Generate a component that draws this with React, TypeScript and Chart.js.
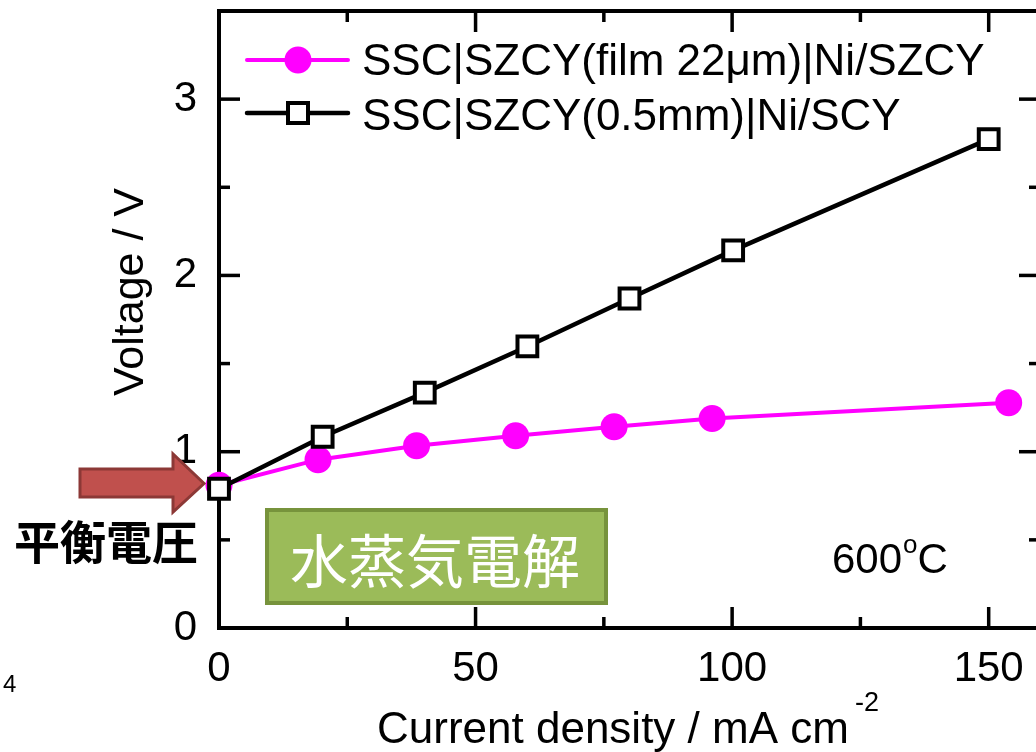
import { useEffect, useRef } from 'react';
import { Chart, registerables } from 'chart.js';

Chart.register(...registerables);

// ---- data ----
const filmCurrent = [0, 19.3, 38.5, 57.8, 77.0, 96.1, 153.9];
const filmVoltage = [0.81, 0.955, 1.034, 1.091, 1.142, 1.188, 1.278];
const bulkCurrent = [0, 20.2, 40.1, 60.1, 80.0, 100.2, 150.0];
const bulkVoltage = [0.79, 1.085, 1.335, 1.597, 1.869, 2.142, 2.773];
const seriesLabels = ['SSC|SZCY(film 22\u03bcm)|Ni/SZCY', 'SSC|SZCY(0.5mm)|Ni/SCY'];
const xMajorTicks = [0, 50, 100, 150];
const xMinorTicks = [25, 75, 125];
const yMajorTicks = [0, 1, 2, 3];
const yMinorTicks = [0.5, 1.5, 2.5];
const xRange = [0, 160];
const yRange = [0, 3.5];
const xTitle = 'Current density / mA cm';
const xTitleSup = '-2';
const yTitle = 'Voltage / V';
const tempLabel = '600';
const equilibriumLabel = '平衡電圧';
const processLabel = '水蒸気電解';
const pageLabel = '4';

const FONT = '"Liberation Sans", Arial, Helvetica, sans-serif';
const CJK = '"Noto Sans CJK JP", "Noto Sans CJK SC", sans-serif';
const MAGENTA = '#FF00FF';

const framePlugin = {
  id: 'frameTicks',
  beforeDatasetsDraw(chart: any) {
    const { ctx, chartArea: a, scales } = chart;
    const xs = scales.x;
    const ys = scales.y;
    ctx.save();
    ctx.strokeStyle = '#000';
    ctx.lineWidth = 4;
    ctx.strokeRect(a.left, a.top, a.right - a.left, a.bottom - a.top);
    ctx.lineWidth = 3.5;
    const seg = (x1: number, y1: number, x2: number, y2: number) => {
      ctx.beginPath();
      ctx.moveTo(x1, y1);
      ctx.lineTo(x2, y2);
      ctx.stroke();
    };
    const major = 21;
    const minor = 11;
    xMajorTicks.forEach((v) => {
      const p = xs.getPixelForValue(v);
      seg(p, a.bottom, p, a.bottom - major);
      seg(p, a.top, p, a.top + major);
    });
    xMinorTicks.forEach((v) => {
      const p = xs.getPixelForValue(v);
      seg(p, a.bottom, p, a.bottom - minor);
      seg(p, a.top, p, a.top + minor);
    });
    yMajorTicks.forEach((v) => {
      const p = ys.getPixelForValue(v);
      seg(a.left, p, a.left + major, p);
      seg(a.right, p, a.right - major, p);
    });
    yMinorTicks.forEach((v) => {
      const p = ys.getPixelForValue(v);
      seg(a.left, p, a.left + minor, p);
      seg(a.right, p, a.right - minor, p);
    });
    ctx.restore();
  },
  afterDraw(chart: any) {
    const { ctx } = chart;
    ctx.save();

    // ---- legend ----
    const lx1 = 247, lx2 = 348, mx = 298;
    ctx.lineCap = 'round';
    ctx.strokeStyle = MAGENTA;
    ctx.lineWidth = 4;
    ctx.beginPath(); ctx.moveTo(lx1, 60); ctx.lineTo(lx2, 60); ctx.stroke();
    ctx.fillStyle = MAGENTA;
    ctx.beginPath(); ctx.arc(mx, 60, 13.5, 0, Math.PI * 2); ctx.fill();
    ctx.strokeStyle = '#000';
    ctx.lineWidth = 4.5;
    ctx.beginPath(); ctx.moveTo(lx1, 113); ctx.lineTo(lx2, 113); ctx.stroke();
    ctx.lineCap = 'butt';
    ctx.fillStyle = '#fff';
    ctx.fillRect(mx - 10, 103, 20, 20);
    ctx.lineWidth = 4;
    ctx.strokeRect(mx - 10, 103, 20, 20);
    ctx.fillStyle = '#000';
    ctx.font = `44px ${FONT}`;
    ctx.textAlign = 'left';
    ctx.textBaseline = 'alphabetic';
    ctx.fillText(seriesLabels[0], 362, 75);
    ctx.fillText(seriesLabels[1], 362, 130);

    // ---- axis titles ----
    ctx.font = `44px ${FONT}`;
    ctx.fillText(xTitle, 377, 743);
    const w = ctx.measureText(xTitle).width;
    ctx.font = `27px ${FONT}`;
    ctx.fillText(xTitleSup, 377 + w + 6, 711);

    ctx.save();
    ctx.translate(143, 292);
    ctx.rotate(-Math.PI / 2);
    ctx.font = `43px ${FONT}`;
    ctx.textAlign = 'center';
    ctx.fillText(yTitle, 0, 0);
    ctx.restore();

    // ---- temperature ----
    ctx.textAlign = 'left';
    ctx.font = `42px ${FONT}`;
    ctx.fillText(tempLabel, 832, 573);
    const tw = ctx.measureText(tempLabel).width;
    ctx.font = `26px ${FONT}`;
    ctx.fillText('o', 832 + tw + 1, 553);
    const ow = ctx.measureText('o').width;
    ctx.font = `42px ${FONT}`;
    ctx.fillText('C', 832 + tw + ow + 1, 573);

    // ---- page fragment ----
    ctx.font = `24px ${FONT}`;
    ctx.fillText(pageLabel, 3, 692);

    // ---- arrow ----
    ctx.beginPath();
    ctx.moveTo(80, 469);
    ctx.lineTo(173, 469);
    ctx.lineTo(173, 454);
    ctx.lineTo(204, 483.5);
    ctx.lineTo(173, 512);
    ctx.lineTo(173, 497);
    ctx.lineTo(80, 497);
    ctx.closePath();
    ctx.fillStyle = '#C0504D';
    ctx.fill();
    ctx.strokeStyle = '#8C3836';
    ctx.lineWidth = 3;
    ctx.lineJoin = 'miter';
    ctx.stroke();

    // ---- equilibrium voltage label ----
    ctx.fillStyle = '#000';
    ctx.font = `bold 46px ${CJK}`;
    ctx.textAlign = 'center';
    ctx.textBaseline = 'middle';
    ctx.fillText(equilibriumLabel, 106, 542);

    // ---- green box ----
    ctx.fillStyle = '#9BBB59';
    ctx.fillRect(267, 510, 339, 93);
    ctx.strokeStyle = '#77933C';
    ctx.lineWidth = 4;
    ctx.strokeRect(267, 510, 339, 93);
    ctx.fillStyle = '#fff';
    ctx.font = `58px ${CJK}`;
    ctx.fillText(processLabel, 435, 561);

    ctx.restore();
  },
};

export default function App() {
  const ref = useRef<HTMLCanvasElement>(null);
  useEffect(() => {
    if (!ref.current) return;
    const tickFont = { family: FONT, size: 42 };
    const chart = new Chart(ref.current, {
      type: 'line',
      data: {
        datasets: [
          {
            label: seriesLabels[1],
            data: bulkCurrent.map((x, i) => ({ x, y: bulkVoltage[i] })),
            borderColor: '#000',
            borderWidth: 4.5,
            pointStyle: 'rect',
            pointRadius: 14,
            pointBorderWidth: 4,
            pointBackgroundColor: '#fff',
            pointBorderColor: '#000',
            clip: false,
            tension: 0,
          },
          {
            label: seriesLabels[0],
            data: filmCurrent.map((x, i) => ({ x, y: filmVoltage[i] })),
            borderColor: MAGENTA,
            borderWidth: 4,
            pointStyle: 'circle',
            pointRadius: 13.5,
            pointBorderWidth: 0,
            pointBackgroundColor: MAGENTA,
            pointBorderColor: MAGENTA,
            clip: false,
            tension: 0,
          },
        ],
      },
      options: {
        responsive: false,
        animation: false,
        devicePixelRatio: 1,
        layout: { autoPadding: false, padding: { left: 0, top: 11, right: 10, bottom: 0 } },
        plugins: { legend: { display: false }, tooltip: { enabled: false } },
        scales: {
          x: {
            type: 'linear',
            min: xRange[0],
            max: xRange[1],
            afterBuildTicks: (s: any) => { s.ticks = xMajorTicks.map((v) => ({ value: v })); },
            afterFit: (s: any) => { s.height = 124; s.paddingLeft = 0; s.paddingRight = 0; s.paddingTop = 0; s.paddingBottom = 0; },
            grid: { display: false, drawTicks: false },
            border: { display: false },
            ticks: { font: tickFont, color: '#000', padding: 16, maxRotation: 0, autoSkip: false },
          },
          y: {
            type: 'linear',
            min: yRange[0],
            max: yRange[1],
            afterBuildTicks: (s: any) => { s.ticks = yMajorTicks.map((v) => ({ value: v })); },
            afterFit: (s: any) => { s.width = 219; s.paddingLeft = 0; s.paddingRight = 0; s.paddingTop = 0; s.paddingBottom = 0; },
            grid: { display: false, drawTicks: false },
            border: { display: false },
            ticks: { font: tickFont, color: '#000', padding: 22, autoSkip: false },
          },
        },
      },
      plugins: [framePlugin],
    } as any);
    return () => chart.destroy();
  }, []);
  return (
    <div style={{ position: 'fixed', left: 0, top: 0, width: 1036, height: 752, overflow: 'hidden', background: '#fff' }}>
      <canvas ref={ref} width={1050} height={752} style={{ display: 'block', width: 1050, height: 752 }} />
    </div>
  );
}
